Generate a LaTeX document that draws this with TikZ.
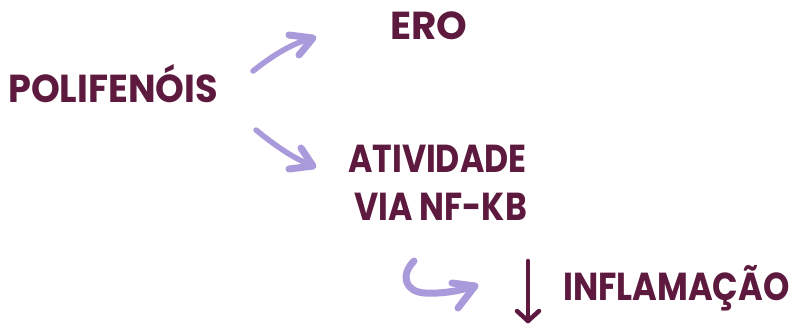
\documentclass[tikz,border=0pt]{standalone}
\usepackage{fontspec}
\setmainfont{Poppins}[BoldFont={* Bold}]
\definecolor{wine}{HTML}{5E1A3E}
\definecolor{lilac}{HTML}{A99BDB}
\tikzset{
  word/.style={text=wine, font=\bfseries\fontsize{39}{39}\selectfont, inner sep=0pt, anchor=base west},
  brush/.style={draw=lilac, line width=5.5pt, line cap=round, line join=round},
  barb/.style={brush, line width=7pt},
  downarr/.style={draw=wine, line width=4.5pt, line cap=round, line join=round}
}
\begin{document}
\begin{tikzpicture}[x=1pt,y=-1pt]
\useasboundingbox (0,0) rectangle (792,325);

% labels
\node[word] (poli) at (8,102) {\scalebox{0.94}[1]{POLIFENÓIS}};
\node[word] (ero) at (390,39) {ERO};
\node[word] (ativ) at (348,172) {\scalebox{0.85}[1]{ATIVIDADE}};
\node[word] (via) at (354,220) {\scalebox{0.85}[1]{VIA NF-KB}};
\node[word] (infl) at (563,300) {\scalebox{0.86}[1]{INFLAMAÇÃO}};

% brush-stroke arrows
\coordinate (a1s) at (253,71);
\coordinate (a1e) at (313,38);
\draw[brush] (a1s) .. controls (272,56) and (292,43) .. (a1e);
\draw[barb] (289,35) -- (a1e) -- (299,55);

\coordinate (a2s) at (256,130);
\coordinate (a2e) at (313,166);
\draw[brush] (a2s) .. controls (272,143) and (292,158) .. (a2e);
\draw[barb] (301,148) -- (a2e) -- (289,169);

\coordinate (a3s) at (414,261);
\coordinate (a3e) at (475,286);
\draw[brush, line width=7pt] (a3s) .. controls (400,275) and (405,292) .. (425,293)
  .. controls (445,294) and (462,290) .. (a3e);
\draw[barb] (452,283) -- (a3e) -- (458,308);

% decrease arrow
\coordinate (d1) at (528,261);
\coordinate (d2) at (528,321);
\draw[downarr] (d1) -- (d2);
\draw[downarr] (517,311) -- (d2) -- (539,311);
\end{tikzpicture}
\end{document}
